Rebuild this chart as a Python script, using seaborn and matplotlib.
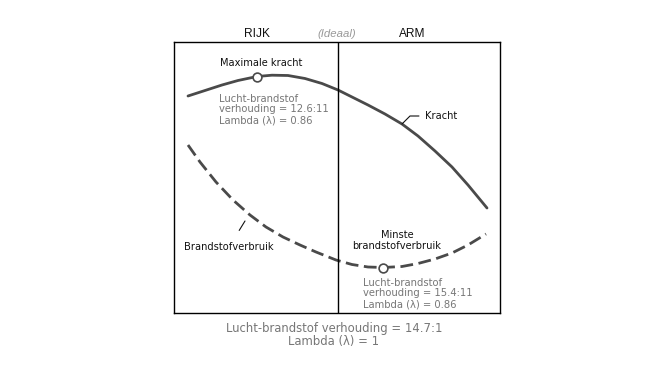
import matplotlib
matplotlib.use("Agg")
import matplotlib.pyplot as plt
import seaborn as sns
import pandas as pd

# ---- data (x/y in diagram units, origin at lower-left of the box) ----
kracht_x = [14, 31, 48, 64, 83, 98, 114, 131, 148, 164, 178, 194, 211, 228, 244, 261, 278, 294, 313]
kracht_y = [217, 222.5, 228, 232.5, 236.5, 237.8, 237.5, 234.5, 229.5, 223, 216, 208, 199, 189,
            177, 162, 146, 128, 105]
fuel_x = [14, 26, 42, 59, 76, 92, 109, 126, 142, 162, 178, 194, 209, 228, 244, 261, 278, 294, 312]
fuel_y = [168, 151, 131, 113, 98, 86, 76, 68, 61, 53, 48.5, 46, 45.5, 46.5, 49.5, 54, 60, 68, 79]
max_point = (83, 236.5)
min_point = (209, 45.5)
ideal_x = 164

header_labels = ["RIJK", "(Ideaal)", "ARM"]
curve_labels = ["Kracht", "Brandstofverbruik"]
note_max = ["Maximale kracht", "Lucht-brandstof\nverhouding = 12.6:11\nLambda (λ) = 0.86"]
note_min = ["Minste\nbrandstofverbruik", "Lucht-brandstof\nverhouding = 15.4:11\nLambda (λ) = 0.86"]
bottom_note = "Lucht-brandstof verhouding = 14.7:1\nLambda (λ) = 1"

W, H = 672, 377
sns.set_theme(style="white")
plt.rcParams["font.family"] = ["DejaVu Sans"]

fig = plt.figure(figsize=(W / 100, H / 100), dpi=100)
L, R, T, B = 174, 500, 42, 313
ax = fig.add_axes([L / W, 1 - B / H, (R - L) / W, (B - T) / H])
ax.set_xlim(0, R - L)
ax.set_ylim(0, B - T)

line_col = "#4a4a4a"
df_k = pd.DataFrame({"x": kracht_x, "y": kracht_y})
df_f = pd.DataFrame({"x": fuel_x, "y": fuel_y})
sns.lineplot(data=df_k, x="x", y="y", ax=ax, color=line_col, lw=2.0, sort=False)
sns.lineplot(data=df_f, x="x", y="y", ax=ax, color=line_col, lw=2.0, sort=False,
             dashes=False, linestyle=(0, (4.6, 2.0)))
sns.scatterplot(x=[max_point[0], min_point[0]], y=[max_point[1], min_point[1]], ax=ax,
                s=40, color="white", edgecolor=line_col, linewidth=1.2, zorder=5)
ax.axvline(ideal_x, color="black", lw=1.0)

for s in ax.spines.values():
    s.set_visible(True)
    s.set_color("black")
    s.set_linewidth(1.0)
ax.set_xticks([])
ax.set_yticks([])
ax.set_xlabel("")
ax.set_ylabel("")

def px(xp, yp):
    return (xp - L, B - yp)

black = "#111111"
grey = "#777777"
fs = 7.1
gfs = 7.2

# inside annotations
ax.text(*px(261, 63), note_max[0], ha="center", va="center", fontsize=fs, color=black)
ax.text(*px(219, 109.5), note_max[1], ha="left", va="center", fontsize=gfs, color=grey,
        linespacing=1.1)
ax.text(*px(397, 240.5), note_min[0], ha="center", va="center", fontsize=fs, color=black,
        linespacing=1.05)
ax.text(*px(363, 293.5), note_min[1], ha="left", va="center", fontsize=gfs, color=grey,
        linespacing=1.1)

ax.annotate(curve_labels[0], xy=px(402, 124), xytext=px(425, 116), fontsize=fs,
            color=black, va="center", ha="left",
            arrowprops=dict(arrowstyle="-", color=black, lw=0.8,
                            connectionstyle="angle,angleA=0,angleB=45,rad=0",
                            shrinkA=2, shrinkB=0))
ax.annotate(curve_labels[1], xy=px(245, 221), xytext=px(229, 247), fontsize=fs,
            color=black, va="center", ha="center",
            arrowprops=dict(arrowstyle="-", color=black, lw=0.8, shrinkA=7, shrinkB=0))

# headers
fig.text(257 / W, 1 - 34 / H, header_labels[0], ha="center", va="center",
         fontsize=8.6, family="Liberation Sans", color=black)
fig.text(337 / W, 1 - 34 / H, header_labels[1], ha="center", va="center",
         fontsize=8.2, family="Liberation Sans", style="italic", color="#999999")
fig.text(412 / W, 1 - 34 / H, header_labels[2], ha="center", va="center",
         fontsize=8.6, family="Liberation Sans", color=black)

fig.text(334 / W, 1 - 335 / H, bottom_note, ha="center", va="center", fontsize=8.4,
         color=grey, linespacing=1.0)

fig.savefig("out.png", dpi=100, facecolor="white")
